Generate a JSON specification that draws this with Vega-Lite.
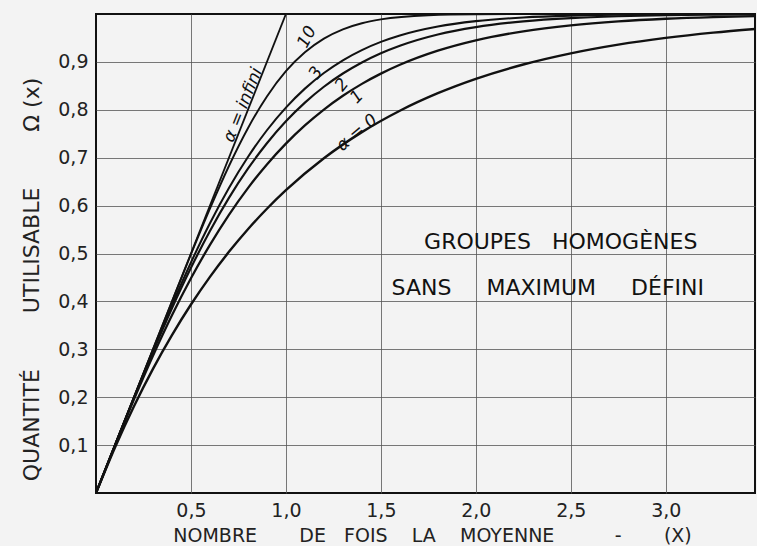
{
  "$schema": "https://vega.github.io/schema/vega-lite/v6.json",
  "autosize": "none",
  "width": 659,
  "height": 479,
  "padding": {"left": 96, "top": 14, "right": 2, "bottom": 53},
  "background": "#f3f3f3",
  "config": {
    "view": {"stroke": "#111", "strokeWidth": 2, "fill": "#f3f3f3"},
    "axis": {
      "labelFont": "DejaVu Sans",
      "titleFont": "DejaVu Sans",
      "labelColor": "#222",
      "titleColor": "#222",
      "labelFontSize": 19,
      "titleFontWeight": "normal",
      "ticks": false,
      "domain": false,
      "gridColor": "#555",
      "gridWidth": 0.8,
      "gridOpacity": 1
    }
  },
  "datasets": {
    "curves": [
      {"series": "inf", "x": 0, "y": 0},
      {"series": "inf", "x": 1.0, "y": 1.0},
      {"series": "10", "x": 0, "y": 0},
      {"series": "10", "x": 0.1, "y": 0.1},
      {"series": "10", "x": 0.2, "y": 0.2},
      {"series": "10", "x": 0.3, "y": 0.3},
      {"series": "10", "x": 0.4, "y": 0.3997},
      {"series": "10", "x": 0.5, "y": 0.4984},
      {"series": "10", "x": 0.6, "y": 0.5937},
      {"series": "10", "x": 0.7, "y": 0.6827},
      {"series": "10", "x": 0.8, "y": 0.7616},
      {"series": "10", "x": 0.9, "y": 0.8279},
      {"series": "10", "x": 1.0, "y": 0.8806},
      {"series": "10", "x": 1.1, "y": 0.9201},
      {"series": "10", "x": 1.2, "y": 0.9487},
      {"series": "10", "x": 1.3, "y": 0.9681},
      {"series": "10", "x": 1.4, "y": 0.9808},
      {"series": "10", "x": 1.5, "y": 0.9887},
      {"series": "10", "x": 1.75, "y": 0.9974},
      {"series": "10", "x": 2.0, "y": 0.9995},
      {"series": "10", "x": 2.5, "y": 1.0},
      {"series": "10", "x": 3.0, "y": 1.0},
      {"series": "10", "x": 3.5, "y": 1.0},
      {"series": "3", "x": 0, "y": 0},
      {"series": "3", "x": 0.1, "y": 0.09998},
      {"series": "3", "x": 0.2, "y": 0.1996},
      {"series": "3", "x": 0.3, "y": 0.2976},
      {"series": "3", "x": 0.4, "y": 0.3922},
      {"series": "3", "x": 0.5, "y": 0.4812},
      {"series": "3", "x": 0.6, "y": 0.5631},
      {"series": "3", "x": 0.7, "y": 0.6367},
      {"series": "3", "x": 0.8, "y": 0.7014},
      {"series": "3", "x": 0.9, "y": 0.7573},
      {"series": "3", "x": 1.0, "y": 0.8046},
      {"series": "3", "x": 1.1, "y": 0.8442},
      {"series": "3", "x": 1.2, "y": 0.8768},
      {"series": "3", "x": 1.3, "y": 0.9034},
      {"series": "3", "x": 1.4, "y": 0.9247},
      {"series": "3", "x": 1.5, "y": 0.9418},
      {"series": "3", "x": 1.6, "y": 0.9552},
      {"series": "3", "x": 1.8, "y": 0.9739},
      {"series": "3", "x": 2.0, "y": 0.9851},
      {"series": "3", "x": 2.25, "y": 0.9928},
      {"series": "3", "x": 2.5, "y": 0.9966},
      {"series": "3", "x": 2.75, "y": 0.9984},
      {"series": "3", "x": 3.0, "y": 0.9993},
      {"series": "3", "x": 3.5, "y": 0.9999},
      {"series": "2", "x": 0, "y": 0},
      {"series": "2", "x": 0.1, "y": 0.0999},
      {"series": "2", "x": 0.2, "y": 0.1987},
      {"series": "2", "x": 0.3, "y": 0.2946},
      {"series": "2", "x": 0.4, "y": 0.3856},
      {"series": "2", "x": 0.5, "y": 0.4701},
      {"series": "2", "x": 0.6, "y": 0.5471},
      {"series": "2", "x": 0.7, "y": 0.6161},
      {"series": "2", "x": 0.8, "y": 0.6770},
      {"series": "2", "x": 0.9, "y": 0.7302},
      {"series": "2", "x": 1.0, "y": 0.7760},
      {"series": "2", "x": 1.1, "y": 0.8150},
      {"series": "2", "x": 1.2, "y": 0.8481},
      {"series": "2", "x": 1.3, "y": 0.8758},
      {"series": "2", "x": 1.4, "y": 0.8989},
      {"series": "2", "x": 1.5, "y": 0.9181},
      {"series": "2", "x": 1.6, "y": 0.9338},
      {"series": "2", "x": 1.8, "y": 0.9573},
      {"series": "2", "x": 2.0, "y": 0.9727},
      {"series": "2", "x": 2.25, "y": 0.9847},
      {"series": "2", "x": 2.5, "y": 0.9915},
      {"series": "2", "x": 2.75, "y": 0.9953},
      {"series": "2", "x": 3.0, "y": 0.9975},
      {"series": "2", "x": 3.25, "y": 0.9986},
      {"series": "2", "x": 3.5, "y": 0.9993},
      {"series": "1", "x": 0, "y": 0},
      {"series": "1", "x": 0.1, "y": 0.0994},
      {"series": "1", "x": 0.2, "y": 0.1956},
      {"series": "1", "x": 0.3, "y": 0.2865},
      {"series": "1", "x": 0.4, "y": 0.3709},
      {"series": "1", "x": 0.5, "y": 0.4482},
      {"series": "1", "x": 0.6, "y": 0.5181},
      {"series": "1", "x": 0.7, "y": 0.5808},
      {"series": "1", "x": 0.8, "y": 0.6366},
      {"series": "1", "x": 0.9, "y": 0.6859},
      {"series": "1", "x": 1.0, "y": 0.7293},
      {"series": "1", "x": 1.1, "y": 0.7673},
      {"series": "1", "x": 1.2, "y": 0.8004},
      {"series": "1", "x": 1.3, "y": 0.8292},
      {"series": "1", "x": 1.4, "y": 0.8541},
      {"series": "1", "x": 1.5, "y": 0.8755},
      {"series": "1", "x": 1.6, "y": 0.8940},
      {"series": "1", "x": 1.8, "y": 0.9235},
      {"series": "1", "x": 2.0, "y": 0.9451},
      {"series": "1", "x": 2.25, "y": 0.9639},
      {"series": "1", "x": 2.5, "y": 0.9764},
      {"series": "1", "x": 2.75, "y": 0.9847},
      {"series": "1", "x": 3.0, "y": 0.9901},
      {"series": "1", "x": 3.25, "y": 0.9936},
      {"series": "1", "x": 3.5, "y": 0.9959},
      {"series": "0", "x": 0, "y": 0},
      {"series": "0", "x": 0.1, "y": 0.0952},
      {"series": "0", "x": 0.2, "y": 0.1813},
      {"series": "0", "x": 0.3, "y": 0.2592},
      {"series": "0", "x": 0.4, "y": 0.3297},
      {"series": "0", "x": 0.5, "y": 0.3935},
      {"series": "0", "x": 0.6, "y": 0.4512},
      {"series": "0", "x": 0.7, "y": 0.5034},
      {"series": "0", "x": 0.8, "y": 0.5507},
      {"series": "0", "x": 0.9, "y": 0.5934},
      {"series": "0", "x": 1.0, "y": 0.6321},
      {"series": "0", "x": 1.2, "y": 0.6988},
      {"series": "0", "x": 1.4, "y": 0.7534},
      {"series": "0", "x": 1.6, "y": 0.7981},
      {"series": "0", "x": 1.8, "y": 0.8347},
      {"series": "0", "x": 2.0, "y": 0.8647},
      {"series": "0", "x": 2.25, "y": 0.8946},
      {"series": "0", "x": 2.5, "y": 0.9179},
      {"series": "0", "x": 2.75, "y": 0.9361},
      {"series": "0", "x": 3.0, "y": 0.9502},
      {"series": "0", "x": 3.25, "y": 0.9612},
      {"series": "0", "x": 3.5, "y": 0.9698}
    ],
    "curveLabels": [
      {"label": "α = infini", "x": 0.774, "y": 0.81},
      {"label": "10", "x": 1.111, "y": 0.952},
      {"label": "3", "x": 1.158, "y": 0.877},
      {"label": "2", "x": 1.295, "y": 0.852},
      {"label": "1", "x": 1.374, "y": 0.827},
      {"label": "α = 0", "x": 1.374, "y": 0.752}
    ],
    "notes": [
      {"text": "GROUPES\u00a0\u00a0\u00a0HOMOGÈNES", "x": 2.447, "y": 0.524},
      {"text": "SANS\u00a0\u00a0\u00a0\u00a0\u00a0MAXIMUM\u00a0\u00a0\u00a0\u00a0\u00a0DÉFINI", "x": 2.379, "y": 0.428}
    ]
  },
  "layer": [
    {
      "data": {"name": "curves"},
      "mark": {"type": "line", "interpolate": "monotone", "clip": true, "color": "#111"},
      "encoding": {
        "x": {
          "field": "x", "type": "quantitative",
          "scale": {"domain": [0, 3.47], "nice": false, "zero": false},
          "axis": {
            "values": [0.5, 1, 1.5, 2, 2.5, 3],
            "labelExpr": "replace(format(datum.value, '.1f'), '.', ',')",
            "labelPadding": 8,
            "title": "NOMBRE\u00a0\u00a0\u00a0\u00a0\u00a0\u00a0\u00a0DE\u00a0\u00a0\u00a0FOIS\u00a0\u00a0\u00a0\u00a0LA\u00a0\u00a0\u00a0\u00a0MOYENNE\u00a0\u00a0\u00a0\u00a0\u00a0\u00a0\u00a0\u00a0\u00a0\u00a0-\u00a0\u00a0\u00a0\u00a0\u00a0\u00a0\u00a0(X)",
            "titleFontSize": 19,
            "titleX": 336,
            "titleY": 48,
            "titleBaseline": "alphabetic",
            "grid": true
          }
        },
        "y": {
          "field": "y", "type": "quantitative",
          "scale": {"domain": [0, 1], "nice": false},
          "axis": {
            "values": [0.1, 0.2, 0.3, 0.4, 0.5, 0.6, 0.7, 0.8, 0.9],
            "labelExpr": "replace(format(datum.value, '.1f'), '.', ',')",
            "labelPadding": 8,
            "title": "QUANTITÉ\u00a0\u00a0\u00a0\u00a0\u00a0\u00a0\u00a0\u00a0UTILISABLE\u00a0\u00a0\u00a0\u00a0\u00a0\u00a0\u00a0\u00a0Ω (x)",
            "titleFontSize": 22,
            "titleX": -58,
            "titleY": 265,
            "titleBaseline": "alphabetic",
            "grid": true
          }
        },
        "detail": {"field": "series"},
        "strokeWidth": {
          "field": "series", "type": "nominal",
          "scale": {"domain": ["inf", "10", "3", "2", "1", "0"], "range": [1.8, 2.4, 2.4, 2.4, 2.4, 2.2]},
          "legend": null
        }
      }
    },
    {
      "data": {"name": "curveLabels"},
      "mark": {"type": "text", "font": "DejaVu Sans", "fontStyle": "italic", "fontSize": 17, "color": "#111", "align": "center", "baseline": "middle"},
      "encoding": {
        "x": {"field": "x", "type": "quantitative"},
        "y": {"field": "y", "type": "quantitative"},
        "text": {"field": "label"},
        "angle": {
          "field": "label", "type": "nominal",
          "scale": {"domain": ["α = infini", "10", "3", "2", "1", "α = 0"], "range": [292, 320, 322, 322, 340, 327]},
          "legend": null
        }
      }
    },
    {
      "data": {"name": "notes"},
      "mark": {"type": "text", "font": "DejaVu Sans", "fontSize": 22, "color": "#111", "align": "center", "baseline": "middle"},
      "encoding": {
        "x": {"field": "x", "type": "quantitative"},
        "y": {"field": "y", "type": "quantitative"},
        "text": {"field": "text"}
      }
    }
  ]
}
